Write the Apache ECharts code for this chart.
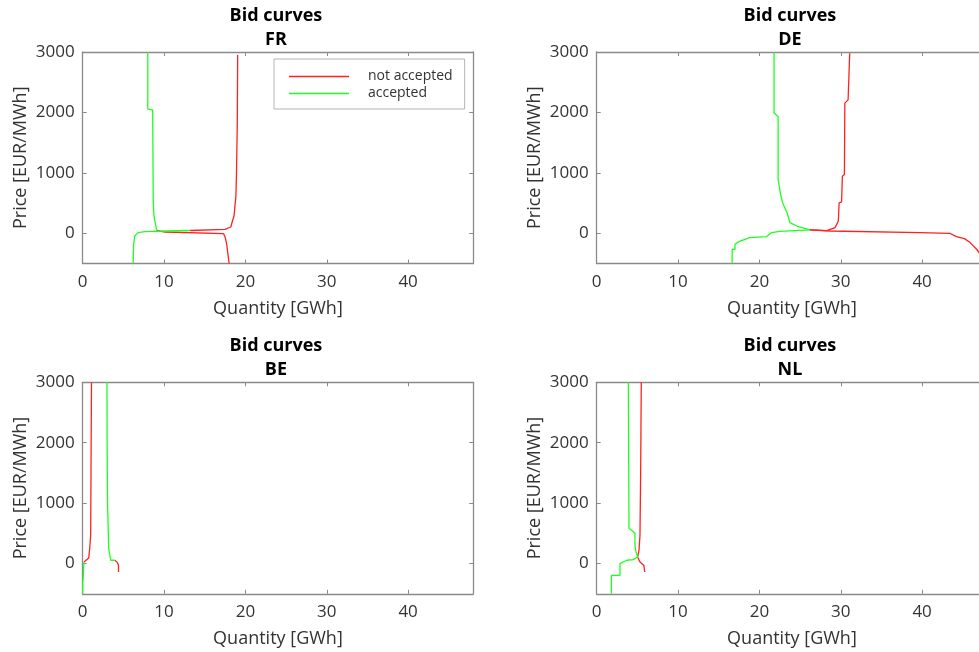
<!DOCTYPE html>
<html lang="en">
<head>
    <meta charset="UTF-8">
    <title>Bid curves</title>
    <script src="https://cdn.jsdelivr.net/npm/echarts@6/dist/echarts.min.js"></script>
    <style>
        html, body { margin: 0; padding: 0; background: #fff; }
        #chart { width: 979px; height: 652px; }
    </style>
</head>
<body>
    <div id="chart"></div>
    <script>
        // markets, tick labels
        const markets = ['FR', 'DE', 'BE', 'NL'];
        const xTicks = [0, 10, 20, 30, 40];
        const yTicks = [0, 1000, 2000, 3000];

        // [quantity GWh, price EUR/MWh]
        const frSupplyAccepted = [[6.2, -500], [6.25, -200], [6.4, -44], [6.8, 11], [7.65, 28], [10.1, 38], [13.2, 46]];
        const frSupplyRejected = [[13.2, 46], [17.5, 66], [18.2, 104], [18.4, 200], [18.6, 285], [18.83, 615], [18.9, 950], [19.0, 1800], [19.05, 2950]];
        const frDemandAccepted = [[8.0, 3000], [8.0, 2055], [8.6, 2043], [8.67, 560], [8.75, 300], [8.9, 186], [9.1, 50]];
        const frDemandRejected = [[9.1, 50], [10.1, 21], [17.3, -5], [17.5, -60], [17.7, -181], [18.0, -500]];

        const deSupplyAccepted = [[16.65, -500], [16.65, -264], [17.0, -264], [17.0, -181], [17.4, -143], [18.8, -71], [20.9, -55], [21.5, 11], [22.5, 33], [26.2, 55]];
        const deSupplyRejected = [[26.2, 55], [28.3, 44], [29.3, 94], [29.7, 203], [29.8, 505], [30.1, 520], [30.2, 944], [30.45, 972], [30.5, 2154], [30.9, 2208], [31.1, 2978]];
        const deDemandAccepted = [[21.8, 3000], [21.8, 1989], [22.3, 1933], [22.3, 890], [22.5, 725], [22.6, 643], [22.85, 505], [23.4, 340], [23.75, 176], [24.6, 120], [26.2, 55]];
        const deDemandRejected = [[26.2, 55], [28.7, 38], [39.7, 11], [43.4, 0], [44.2, -55], [45.2, -88], [45.9, -154], [46.7, -264], [47.0, -318], [47.6, -500]];

        const beSupplyAccepted = [[0.0, -500], [0.02, -300], [0.08, -194], [0.12, -50], [0.16, 27]];
        const beSupplyRejected = [[0.16, 27], [0.32, 55], [0.74, 93], [0.86, 249], [0.98, 469], [1.02, 1500], [1.08, 3000]];
        const beDemandAccepted = [[2.98, 3000], [3.0, 2000], [3.05, 1020], [3.15, 500], [3.2, 249], [3.44, 55], [3.95, 55]];
        const beDemandRejected = [[3.95, 55], [4.25, 20], [4.4, -28], [4.4, -139]];

        const nlSupplyAccepted = [[1.8, -500], [1.8, -194], [2.86, -194], [2.86, 0], [3.07, 27], [3.69, 55], [4.5, 66], [5.03, 110]];
        const nlSupplyRejected = [[5.03, 110], [5.2, 220], [5.32, 469], [5.4, 1463], [5.48, 3000]];
        const nlDemandAccepted = [[3.89, 3000], [3.97, 580], [4.3, 552], [4.7, 497], [4.7, 303], [4.83, 193], [5.03, 110]];
        const nlDemandRejected = [[5.03, 110], [5.3, 30], [5.8, -30], [5.9, -60], [5.9, -139]];

        const curves = [
            [frSupplyAccepted, frSupplyRejected, frDemandAccepted, frDemandRejected],
            [deSupplyAccepted, deSupplyRejected, deDemandAccepted, deDemandRejected],
            [beSupplyAccepted, beSupplyRejected, beDemandAccepted, beDemandRejected],
            [nlSupplyAccepted, nlSupplyRejected, nlDemandAccepted, nlDemandRejected]
        ];

        const font = 'Open Sans';
        const boxColor = '#8a8a8a';
        const textColor = '#333';
        const plotW = 390.5, plotH = 211.5;
        const lefts = [82.7, 596.7, 82.7, 596.7];
        const tops = [52, 52, 382.3, 382.3];

        const chart = echarts.init(document.getElementById('chart'));

        const grid = [], xAxis = [], yAxis = [], title = [], series = [];
        markets.forEach((m, i) => {
            grid.push({ left: lefts[i], top: tops[i], width: plotW, height: plotH, outerBoundsMode: 'none', containLabel: false });
            title.push({
                text: 'Bid curves\n' + m,
                left: lefts[i] + plotW / 2 - 2,
                top: tops[i] - 48,
                textAlign: 'center',
                padding: 0,
                textStyle: { fontFamily: font, fontSize: 18, fontWeight: 'bold', lineHeight: 24, color: '#000' }
            });
            // bottom / left axes with labels
            xAxis.push({
                gridIndex: i, type: 'value', min: 0, max: 48, position: 'bottom',
                name: 'Quantity [GWh]', nameLocation: 'middle', nameGap: 36,
                nameTextStyle: { fontFamily: font, fontSize: 18, color: textColor },
                axisLine: { show: true, onZero: false, lineStyle: { color: boxColor, width: 1.3 } },
                axisTick: { show: true, inside: true, length: 4, customValues: xTicks, lineStyle: { color: boxColor } },
                axisLabel: { customValues: xTicks, margin: 10, fontFamily: font, fontSize: 17, color: textColor },
                splitLine: { show: false }
            });
            // top axis for the box
            xAxis.push({
                gridIndex: i, type: 'value', min: 0, max: 48, position: 'top',
                axisLine: { show: true, onZero: false, lineStyle: { color: boxColor, width: 1.3 } },
                axisTick: { show: true, inside: true, length: 4, customValues: xTicks, lineStyle: { color: boxColor } },
                axisLabel: { show: false },
                splitLine: { show: false }
            });
            yAxis.push({
                gridIndex: i, type: 'value', min: -500, max: 3000, position: 'left',
                name: 'Price [EUR/MWh]', nameLocation: 'middle', nameGap: 53,
                nameTextStyle: { fontFamily: font, fontSize: 18, color: textColor },
                axisLine: { show: true, onZero: false, lineStyle: { color: boxColor, width: 1.3 } },
                axisTick: { show: true, inside: true, length: 4, customValues: yTicks, lineStyle: { color: boxColor } },
                axisLabel: {
                    customValues: yTicks, margin: 8, fontFamily: font, fontSize: 17, color: textColor,
                    formatter: v => String(v)
                },
                splitLine: { show: false }
            });
            yAxis.push({
                gridIndex: i, type: 'value', min: -500, max: 3000, position: 'right',
                axisLine: { show: true, onZero: false, lineStyle: { color: boxColor, width: 1.3 } },
                axisTick: { show: true, inside: true, length: 4, customValues: yTicks, lineStyle: { color: boxColor } },
                axisLabel: { show: false },
                splitLine: { show: false }
            });

            curves[i].forEach((data, k) => {
                const accepted = k % 2 === 0;
                series.push({
                    name: accepted ? 'accepted' : 'not accepted',
                    type: 'line',
                    xAxisIndex: i * 2,
                    yAxisIndex: i * 2,
                    data: data,
                    showSymbol: false,
                    color: accepted ? '#1fff1f' : '#ff2020',
                    lineStyle: { width: 1.3 },
                    z: accepted ? 3 : 2
                });
            });
        });

        chart.setOption({
            animation: false,
            title: title,
            legend: {
                data: ['not accepted', 'accepted'],
                orient: 'vertical',
                left: 274,
                top: 59,
                padding: [9, 12, 7, 15],
                itemGap: 0,
                itemWidth: 60,
                itemHeight: 1.5,
                icon: 'rect',
                selectedMode: false,
                borderColor: '#b5b5b5',
                borderWidth: 1,
                textStyle: { fontFamily: font, fontSize: 14, color: textColor, lineHeight: 17, padding: [0, 0, 0, 14] }
            },
            grid: grid,
            xAxis: xAxis,
            yAxis: yAxis,
            series: series
        });
    </script>
</body>
</html>
